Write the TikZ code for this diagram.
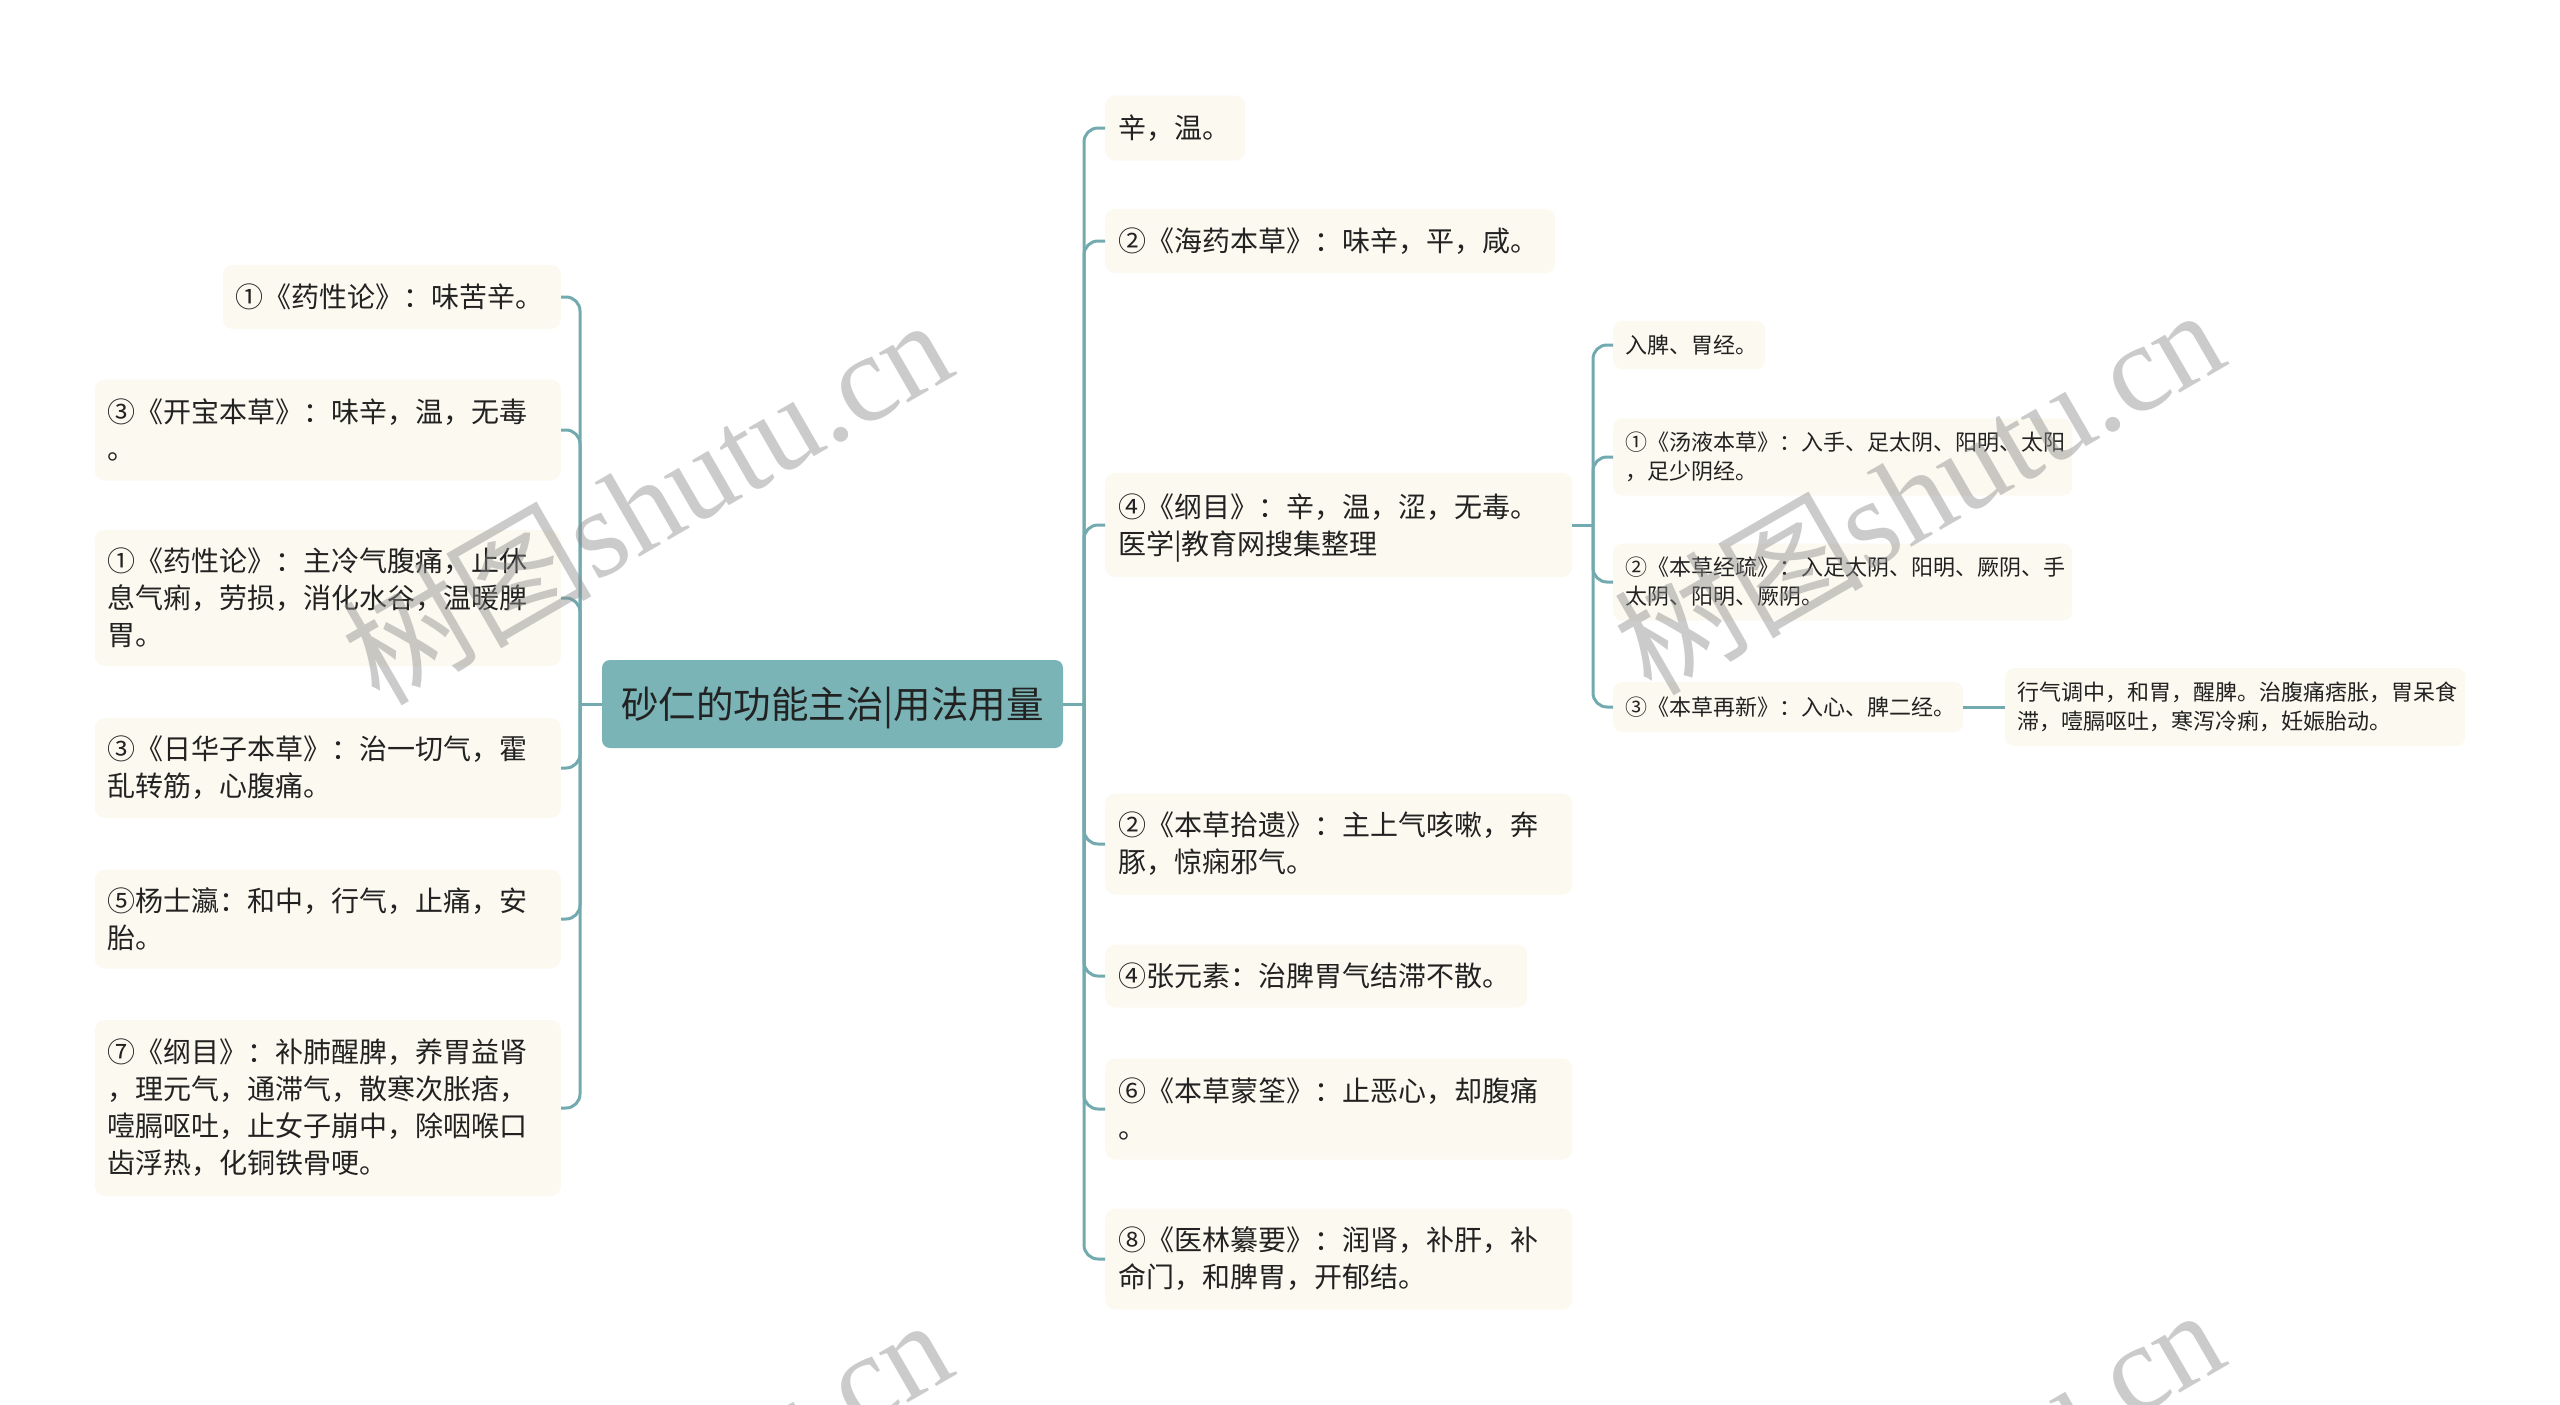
\documentclass[tikz,border=0pt]{standalone}
\usepackage{fontspec}
\setmainfont{Noto Sans CJK SC}
\newfontfamily\wmcjk{Noto Sans CJK SC}
\newfontfamily\wmlat{Liberation Serif}
\definecolor{conncol}{HTML}{72AAB0}
\definecolor{rootcol}{HTML}{7BB4B6}
\definecolor{boxcol}{HTML}{FCF9F0}
\definecolor{txtcol}{HTML}{222222}
\tikzset{
  conn/.style={draw=conncol, line width=3pt, rounded corners=14pt},
  rootbox/.style={fill=rootcol, rounded corners=8pt, inner sep=0pt, text=txtcol,
    font=\fontsize{37.5}{44}\selectfont, minimum width=461pt, minimum height=88pt},
  box/.style={fill=boxcol, rounded corners=10pt, inner xsep=13pt, inner ysep=0pt,
    align=left, text=txtcol, font=\fontsize{28}{37}\selectfont},
  subbox/.style={fill=boxcol, rounded corners=9pt, inner xsep=12pt, inner ysep=0pt,
    align=left, text=txtcol, font=\fontsize{22}{29}\selectfont},
  wm/.style={rotate=30, anchor=base west, inner sep=0pt, text=black!45, text opacity=0.45,
    font=\fontsize{125}{125}\selectfont}
}
\begin{document}
\begin{tikzpicture}[x=1pt,y=-1pt]
\fill[white] (0,0) rectangle (2560,1405);
\useasboundingbox (0,0) rectangle (2560,1405);

% root
\node[rootbox] (root) at (832.5,704) {砂仁的功能主治\smash{|}用法用量};

% left children (right edges at x=561)
\node[box, text width=312pt, minimum height=64pt, anchor=east] (L1) at (561,297) {①《药性论》：味苦辛。};
\node[box, text width=440pt, minimum height=101pt, anchor=east] (L2) at (561,430) {③《开宝本草》：味辛，温，无毒\\。};
\node[box, text width=440pt, minimum height=136pt, anchor=east] (L3) at (561,598) {①《药性论》：主冷气腹痛，止休\\息气痢，劳损，消化水谷，温暖脾\\胃。};
\node[box, text width=440pt, minimum height=100pt, anchor=east] (L4) at (561,768) {③《日华子本草》：治一切气，霍\\乱转筋，心腹痛。};
\node[box, text width=440pt, minimum height=99pt, anchor=east] (L5) at (561,919) {⑤杨士瀛：和中，行气，止痛，安\\胎。};
\node[box, text width=440pt, minimum height=176pt, anchor=east] (L6) at (561,1108) {⑦《纲目》：补肺醒脾，养胃益肾\\，理元气，通滞气，散寒次胀痞，\\噎膈呕吐，止女子崩中，除咽喉口\\齿浮热，化铜铁骨哽。};

% right children (left edges at x=1105)
\node[box, text width=114pt, minimum height=65pt, anchor=west] (R1) at (1105,128) {辛，温。};
\node[box, text width=424pt, minimum height=64pt, anchor=west] (R2) at (1105,241) {②《海药本草》：味辛，平，咸。};
\node[box, text width=441pt, minimum height=104pt, anchor=west] (R3) at (1105,525) {④《纲目》：辛，温，涩，无毒。\\医学\smash{|}教育网搜集整理};
\node[box, text width=441pt, minimum height=101pt, anchor=west] (R4) at (1105,844) {②《本草拾遗》：主上气咳嗽，奔\\豚，惊痫邪气。};
\node[box, text width=396pt, minimum height=63pt, anchor=west] (R5) at (1105,976) {④张元素：治脾胃气结滞不散。};
\node[box, text width=441pt, minimum height=101pt, anchor=west] (R6) at (1105,1109) {⑥《本草蒙筌》：止恶心，却腹痛\\。};
\node[box, text width=441pt, minimum height=101pt, anchor=west] (R7) at (1105,1259) {⑧《医林纂要》：润肾，补肝，补\\命门，和脾胃，开郁结。};

% sub-children of R3
\node[subbox, text width=128pt, minimum height=48pt, anchor=west] (S1) at (1613,345) {入脾、胃经。};
\node[subbox, text width=435pt, minimum height=77pt, anchor=west] (S2) at (1613,457) {①《汤液本草》：入手、足太阴、阳明、太阳\\，足少阴经。};
\node[subbox, text width=435pt, minimum height=77pt, anchor=west] (S3) at (1613,582) {②《本草经疏》：入足太阴、阳明、厥阴、手\\太阴、阳明、厥阴。};
\node[subbox, text width=326pt, minimum height=50pt, anchor=west] (S4) at (1613,707) {③《本草再新》：入心、脾二经。};
\node[subbox, text width=436pt, minimum height=78pt, anchor=west] (T1) at (2005,707) {行气调中，和胃，醒脾。治腹痛痞胀，胃呆食\\滞，噎膈呕吐，寒泻冷痢，妊娠胎动。};

% junctions
\coordinate (jl) at (580,704);
\coordinate (jr) at (1084,704);
\coordinate (js) at (1593,525);

\draw[conn] (root.west) -- (jl);
\foreach \n in {L1,L2,L3,L4,L5,L6} \draw[conn] (jl) |- (\n.east);
\draw[conn] (root.east) -- (jr);
\foreach \n in {R1,R2,R3,R4,R5,R6,R7} \draw[conn] (jr) |- (\n.west);
\draw[conn] (R3.east) -- (js);
\foreach \n in {S1,S2,S3,S4} \draw[conn] (js) |- (\n.west);
\draw[conn] (S4.east) -- (T1.west);

% watermarks
\begin{scope}
\clip (0,0) rectangle (2560,1405);
\node[wm] (wm1) at (379,708) {{\wmcjk 树图}{\wmlat shutu.cn}};
\node[wm] (wm2) at (1651,698) {{\wmcjk 树图}{\wmlat shutu.cn}};
\node[wm] (wm3) at (379,1708) {{\wmcjk 树图}{\wmlat shutu.cn}};
\node[wm] (wm4) at (1651,1698) {{\wmcjk 树图}{\wmlat shutu.cn}};
\end{scope}
\end{tikzpicture}
\end{document}
